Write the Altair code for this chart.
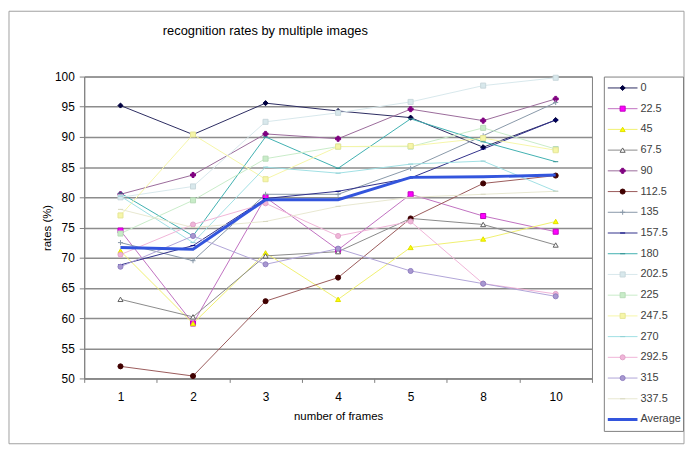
import altair as alt
import pandas as pd

frames = ["1", "2", "3", "4", "5", "8", "10"]
series = ["0", "22.5", "45", "67.5", "90", "112.5", "135", "157.5", "180",
          "202.5", "225", "247.5", "270", "292.5", "315", "337.5", "Average"]

s_0 = [95.2, 90.4, 95.6, 94.3, 93.2, 88.3, 92.8]
s_22_5 = [74.5, 59.1, 80.0, 71.3, 80.5, 76.9, 74.3]
s_45 = [71.1, 59.1, 70.8, 63.1, 71.7, 73.1, 76.0]
s_67_5 = [63.1, 60.2, 70.3, 71.0, 76.5, 75.5, 72.1]
s_90 = [80.5, 83.7, 90.5, 89.7, 94.6, 92.7, 96.3]
s_112_5 = [52.0, 50.4, 62.8, 66.7, 76.5, 82.3, 83.6]
s_135 = [72.5, 69.5, 80.5, 80.5, 84.8, 90.2, 95.7]
s_157_5 = [68.8, 72.0, 79.8, 81.0, 83.2, 88.0, 92.8]
s_180 = [80.7, 73.6, 90.0, 84.8, 93.0, 89.2, 85.9]
s_202_5 = [80.0, 81.8, 92.5, 94.0, 95.8, 98.5, 99.8]
s_225 = [74.0, 79.5, 86.4, 88.4, 88.4, 91.5, 88.0]
s_247_5 = [77.0, 90.4, 83.0, 88.4, 88.5, 89.8, 87.8]
s_270 = [80.2, 72.5, 85.0, 84.0, 85.5, 86.0, 81.0]
s_292_5 = [70.5, 75.5, 79.0, 73.6, 76.0, 65.7, 64.0]
s_315 = [68.5, 73.6, 68.9, 71.5, 67.8, 65.7, 63.6]
s_337_5 = [78.0, 75.0, 76.0, 78.5, 80.0, 80.5, 81.0]
s_avg = [71.7, 71.4, 79.6, 79.6, 83.3, 83.4, 83.7]

all_vals = [s_0, s_22_5, s_45, s_67_5, s_90, s_112_5, s_135, s_157_5, s_180,
            s_202_5, s_225, s_247_5, s_270, s_292_5, s_315, s_337_5, s_avg]

title_text = "recognition rates by multiple images"

line_colors = ["#2a2a60", "#c070c0", "#f0f070", "#8a8a8a", "#9a6a9a", "#9a5a5a",
               "#8898a8", "#30308a", "#40b0b0", "#d8e8ec", "#c8ecc8", "#f6f6a8",
               "#a0e0e4", "#f0b4d8", "#b0a4d8", "#e8e8d0", "#3355dd"]
marker_fill = ["#000040", "#ff00ff", "#ffff00", "#ffffff", "#800080", "#400000",
               "#8898a8", "#000080", "#40b0b0", "#d8e8ec", "#c8ecc8", "#f6f6a8",
               "#a0e0e4", "#f0b4d8", "#a898d0", "#e8e8d0"]
marker_stroke = ["#000040", "#c000c0", "#e0e000", "#606060", "#800080", "#400000",
                 "#8898a8", "#000080", "#309090", "#c8d8dc", "#b8dcb8", "#e6e698",
                 "#90d0d4", "#e0a4c8", "#9080c0", "#d8d8c0"]
marker_shapes = ["diamond", "square", "triangle-up", "triangle-up", "cross", "circle",
                 "M-1,0H1M0,-1V1", "M-1,0H1", "M-1,0H1", "square", "square", "square",
                 "M-1,0H1", "circle", "circle", "M-1,0H1"]

rows = []
for name, vals in zip(series, all_vals):
    for f, v in zip(frames, vals):
        rows.append({"series": name, "frame": f, "rate": v})
df = pd.DataFrame(rows)
df_series = df[df["series"] != "Average"]
df_avg = df[df["series"] == "Average"]

FONT = "Liberation Sans"
series16 = series[:-1]
AVG_COLOR = line_colors[-1]

color_scale = alt.Scale(domain=series16, range=line_colors[:-1])
fill_scale = alt.Scale(domain=series16, range=marker_fill)
stroke_scale = alt.Scale(domain=series16, range=marker_stroke)
shape_scale = alt.Scale(domain=series16, range=marker_shapes)

x_enc = alt.X("frame:N", sort=frames,
              scale=alt.Scale(type="band", paddingInner=0, paddingOuter=0),
              bandPosition=0.5,
              axis=alt.Axis(title="number of frames", labelAngle=0, tickBand="extent",
                            tickSize=4, labelPadding=9, titlePadding=8,
                            labelFontSize=12, titleFontSize=11.5, labelFont=FONT,
                            titleFont=FONT, titleFontWeight="normal",
                            labelColor="#000000", titleColor="#000000",
                            domainColor="#808080", tickColor="#808080", grid=False))
y_enc = alt.Y("rate:Q",
              scale=alt.Scale(domain=[50, 100], nice=False, zero=False),
              axis=alt.Axis(title="rates (%)", values=list(range(50, 101, 5)),
                            tickSize=5, labelPadding=5, titlePadding=2,
                            labelFontSize=12, titleFontSize=11.5, labelFont=FONT,
                            titleFont=FONT, titleFontWeight="normal",
                            labelColor="#000000", titleColor="#000000",
                            domainColor="#808080", tickColor="#808080",
                            grid=True, gridColor="#8c8c8c", gridWidth=1.5))

base = alt.Chart(df_series)
one = pd.DataFrame({"a": [0]})

border = alt.Chart(one).mark_rect(
    fill="#ffffff", fillOpacity=0, stroke="#a0a0a0", strokeWidth=1
).encode(x=alt.value(-76), x2=alt.value(606), y=alt.value(-66), y2=alt.value(371))

title = alt.Chart(one).mark_text(
    fontSize=13, font=FONT, color="#000000", align="center", baseline="middle"
).encode(x=alt.value(183), y=alt.value(-46), text=alt.value(title_text))

lines = base.mark_line(strokeWidth=1).encode(
    x=x_enc, y=y_enc,
    color=alt.Color("series:N", scale=color_scale, legend=None),
    detail="series:N",
)
points = base.mark_point(filled=True, size=26, strokeWidth=1, opacity=1).encode(
    x=x_enc, y=y_enc,
    shape=alt.Shape("series:N", scale=shape_scale, legend=None),
    fill=alt.Fill("series:N", scale=fill_scale, legend=None),
    stroke=alt.Stroke("series:N", scale=stroke_scale, legend=None),
)
avg_line = alt.Chart(df_avg).mark_line(strokeWidth=3, color=AVG_COLOR).encode(
    x=x_enc, y=y_enc,
)

plot = alt.layer(border, title, lines, points, avg_line).properties(width=513, height=305)

# legend panel
leg_df = pd.DataFrame({"series": series})
leg_df16 = leg_df[leg_df["series"] != "Average"]
leg_dfavg = leg_df[leg_df["series"] == "Average"]
leg_y = alt.Y("series:N", sort=series, scale=alt.Scale(type="point", padding=0.55), axis=None)
leg_rule = alt.Chart(leg_df16).mark_rule(strokeWidth=1).encode(
    x=alt.value(4), x2=alt.value(34), y=leg_y,
    color=alt.Color("series:N", scale=color_scale, legend=None),
)
leg_rule_avg = alt.Chart(leg_dfavg).mark_rule(strokeWidth=3, color=AVG_COLOR).encode(
    x=alt.value(4), x2=alt.value(34), y=leg_y,
)
leg_pts = alt.Chart(leg_df16).mark_point(
    filled=True, size=26, strokeWidth=1, opacity=1
).encode(
    x=alt.value(19), y=leg_y,
    shape=alt.Shape("series:N", scale=shape_scale, legend=None),
    fill=alt.Fill("series:N", scale=fill_scale, legend=None),
    stroke=alt.Stroke("series:N", scale=stroke_scale, legend=None),
)
leg_txt = alt.Chart(leg_df).mark_text(align="left", baseline="middle", fontSize=11, font=FONT,
                                      color="#404040").encode(
    x=alt.value(37), y=leg_y, text="series:N")
legend = alt.layer(leg_rule, leg_rule_avg, leg_pts, leg_txt).properties(width=80, height=358)

chart = alt.hconcat(plot, legend, spacing=12, bounds="flush").properties(
    padding=0, background="#ffffff"
).configure_view(stroke="#808080", strokeWidth=1)

chart.save("out.html", embed_options={"renderer": "svg", "actions": False})
